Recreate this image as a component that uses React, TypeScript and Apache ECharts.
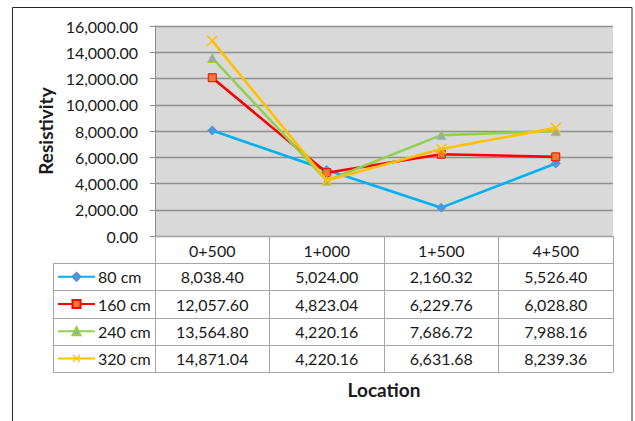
import React, { useEffect, useRef } from "react";
import * as echarts from "echarts";

const categories = ["0+500", "1+000", "1+500", "4+500"];
const seriesNames = ["80 cm", "160 cm", "240 cm", "320 cm"];
const s80 = [8038.4, 5024.0, 2160.32, 5526.4];
const s160 = [12057.6, 4823.04, 6229.76, 6028.8];
const s240 = [13564.8, 4220.16, 7686.72, 7988.16];
const s320 = [14871.04, 4220.16, 6631.68, 8239.36];
const seriesValues = [s80, s160, s240, s320];
const yTitle = "Resistivity";
const xTitle = "Location";

const FONT = "Lato, 'Open Sans', sans-serif";
const GL = 155, GT = 26, GR = 613, GB = 236;
const TABLE_LEFT = 53;
const ROW_H = 27.2;
const LINE_C = "#a6a6a6";
const TXT = "#1a1a1a";
const FS = 16;

const fmt = (v: number) =>
  v.toLocaleString("en-US", { minimumFractionDigits: 2, maximumFractionDigits: 2 });

const X_PATH =
  "path://M0,1 L1,0 L5,4 L9,0 L10,1 L6,5 L10,9 L9,10 L5,6 L1,10 L0,9 L4,5 Z";

const styles = [
  { line: "#00b0f0", symbol: "diamond", fill: "#4f97d8", border: "#4f97d8", size: 9 },
  { line: "#ff0000", symbol: "rect", fill: "#ed7d31", border: "#ff0000", size: 8 },
  { line: "#92d050", symbol: "triangle", fill: "#a5a5a5", border: "#92d050", size: 9 },
  { line: "#ffc000", symbol: X_PATH, fill: "#ffc000", border: "#ffc000", size: 11 },
];

export default function App() {
  const ref = useRef<HTMLDivElement>(null);
  useEffect(() => {
    if (!ref.current) return;
    const chart = echarts.init(ref.current, undefined, { renderer: "svg" });
    const colW = (GR - GL) / categories.length;
    const graphics: any[] = [];
    graphics.push({
      type: "rect",
      shape: { x: 12.5, y: 7.5, width: 619.5, height: 440 },
      style: { fill: "none", stroke: "#262626", lineWidth: 1 },
      silent: true,
    });
    for (let r = 1; r <= seriesNames.length + 1; r++) {
      const y = Math.round(GB + r * ROW_H) + 0.5;
      graphics.push({
        type: "line",
        shape: { x1: TABLE_LEFT, y1: y, x2: GR, y2: y },
        style: { stroke: LINE_C, lineWidth: 1 },
        silent: true,
      });
    }
    graphics.push({
      type: "line",
      shape: {
        x1: TABLE_LEFT + 0.5,
        y1: Math.round(GB + ROW_H) + 0.5,
        x2: TABLE_LEFT + 0.5,
        y2: Math.round(GB + (seriesNames.length + 1) * ROW_H) + 0.5,
      },
      style: { stroke: LINE_C, lineWidth: 1 },
      silent: true,
    });
    seriesValues.forEach((vals, r) => {
      vals.forEach((v, c) => {
        graphics.push({
          type: "text",
          x: GL + colW * (c + 0.5),
          y: GB + ROW_H * (r + 1.5),
          style: {
            text: fmt(v),
            fill: TXT,
            font: `${FS}px ${FONT}`,
            textAlign: "center",
            textVerticalAlign: "middle",
          },
          silent: true,
        });
      });
    });

    const IH = 10;
    const legends = seriesNames.map((n, i) => ({
      data: [n],
      left: 57,
      top: GB + ROW_H * (i + 1.5) - IH / 2 - 3,
      itemWidth: 37,
      itemHeight: IH,
      itemGap: 3,
      textStyle: {
        fontFamily: FONT,
        fontSize: FS,
        color: TXT,
        padding: [0, 0, 6, -2],
      },
      selectedMode: false,
      padding: 0,
    }));

    chart.setOption({
      animation: false,
      backgroundColor: "#ffffff",
      textStyle: { fontFamily: FONT },
      grid: {
        left: GL,
        top: GT,
        width: GR - GL,
        height: GB - GT,
        show: true,
        backgroundColor: "#d9d9d9",
        borderWidth: 0,
      },
      legend: legends,
      xAxis: {
        type: "category",
        data: categories,
        boundaryGap: true,
        name: xTitle,
        nameLocation: "middle",
        nameGap: 144,
        nameTextStyle: { fontFamily: FONT, fontSize: 19, fontWeight: "bold", color: TXT },
        axisLine: { show: true, lineStyle: { color: LINE_C, width: 1 } },
        axisTick: {
          show: true,
          alignWithLabel: false,
          length: Math.round((seriesNames.length + 1) * ROW_H),
          lineStyle: { color: LINE_C, width: 1 },
        },
        axisLabel: { fontFamily: FONT, fontSize: FS, color: TXT, margin: 6 },
        splitLine: { show: false },
      },
      yAxis: {
        type: "value",
        min: 0,
        max: 16000,
        interval: 2000,
        name: yTitle,
        nameLocation: "middle",
        nameRotate: 90,
        nameGap: 97,
        nameTextStyle: { fontFamily: FONT, fontSize: 19, fontWeight: "bold", color: TXT },
        axisLine: { show: true, lineStyle: { color: "#8c8c8c", width: 1 } },
        axisTick: { show: true, length: 5, lineStyle: { color: "#8c8c8c" } },
        axisLabel: {
          fontFamily: FONT,
          fontSize: FS,
          color: TXT,
          margin: 17,
          formatter: (v: number) => fmt(v),
        },
        splitLine: { show: true, lineStyle: { color: "#8f8f8f", width: 1.3 } },
      },
      series: seriesNames.map((n, i) => ({
        name: n,
        type: "line",
        data: seriesValues[i],
        symbol: styles[i].symbol,
        symbolSize: styles[i].size,
        showSymbol: true,
        lineStyle: { color: styles[i].line, width: 2.6 },
        itemStyle: {
          color: styles[i].fill,
          borderColor: styles[i].border,
          borderWidth: i === 3 ? 0 : 1,
        },
        z: 2 + i,
      })),
      graphic: graphics,
    });
    return () => chart.dispose();
  }, []);
  return (
    <div
      ref={ref}
      style={{ position: "fixed", left: 0, top: 0, width: 635, height: 421 }}
    />
  );
}
